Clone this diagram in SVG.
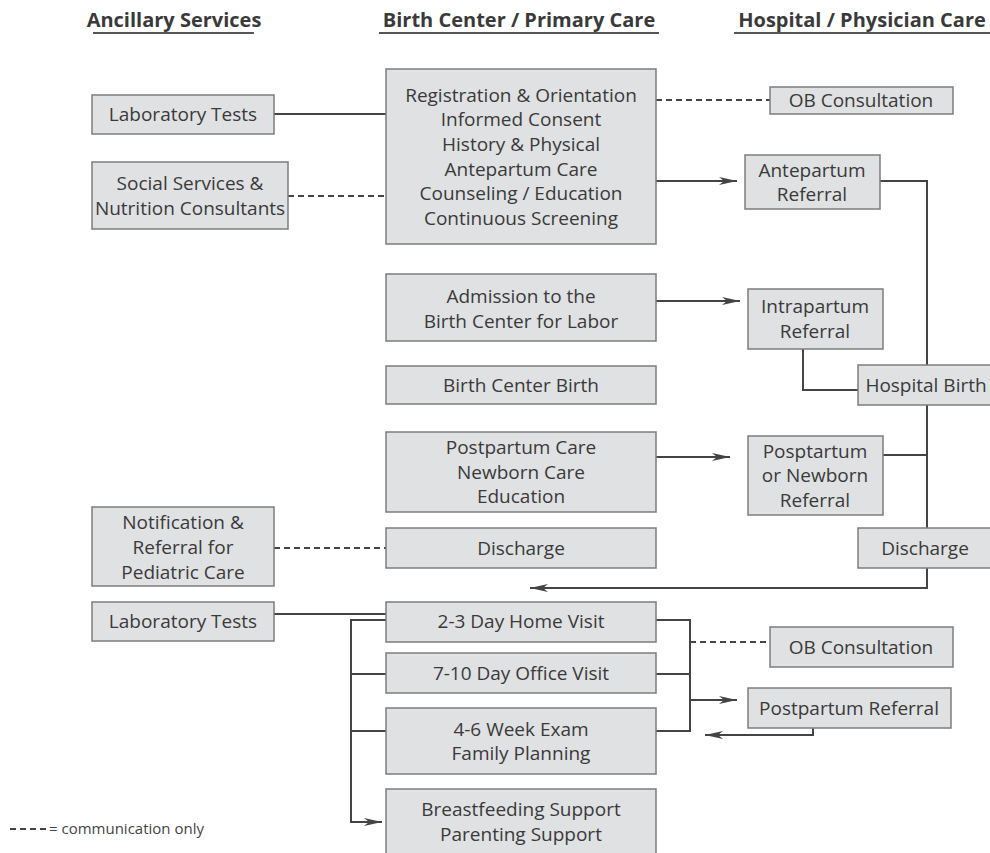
<svg xmlns="http://www.w3.org/2000/svg" width="990" height="853" viewBox="0 0 990 853">
<defs>
<style>
.bg{fill:#ffffff}
.box{fill:#e0e1e3;stroke:#7d7d7d;stroke-width:1.5}
.t{font-family:"Open Sans","Liberation Sans",sans-serif;font-size:19px;fill:#3a3a3a;text-anchor:middle}
.h{font-family:"Open Sans","Liberation Sans",sans-serif;font-size:20px;font-weight:bold;fill:#3a3a3a;text-anchor:middle}
.ul{stroke:#555;stroke-width:2}
.ln{fill:none;stroke:#444;stroke-width:2}
.dash{fill:none;stroke:#444;stroke-width:2;stroke-dasharray:6,4}
.lg{font-family:"Open Sans","Liberation Sans",sans-serif;font-size:15px;fill:#444}
</style>
<marker id="arr" markerWidth="18" markerHeight="8" refX="18" refY="4" orient="auto" markerUnits="userSpaceOnUse">
<path d="M0,0 L18,4 L0,8 L5,4 Z" fill="#444"/>
</marker>
</defs>
<rect class="bg" x="0" y="0" width="990" height="853"/>

<g id="headers">
<text class="h" x="174" y="27">Ancillary Services</text>
<line class="ul" x1="93" y1="33" x2="254" y2="33"/>
<text class="h" x="519" y="27">Birth Center / Primary Care</text>
<line class="ul" x1="379" y1="33" x2="659" y2="33"/>
<text class="h" x="862" y="27">Hospital / Physician Care</text>
<line class="ul" x1="734" y1="33" x2="990" y2="33"/>
</g>

<g id="connectors">
<line class="ln" x1="274" y1="114" x2="386" y2="114"/>
<line class="dash" x1="288" y1="196" x2="386" y2="196"/>
<line class="dash" x1="656" y1="100" x2="770" y2="100"/>
<line class="ln" x1="656" y1="181" x2="737" y2="181" marker-end="url(#arr)"/>
<line class="ln" x1="656" y1="301" x2="740" y2="301" marker-end="url(#arr)"/>
<line class="ln" x1="656" y1="457" x2="730" y2="457" marker-end="url(#arr)"/>
<path class="ln" d="M880,181 H927 V588 H530" marker-end="url(#arr)"/>
<path class="ln" d="M803,349 V390 H858"/>
<line class="ln" x1="883" y1="455" x2="927" y2="455"/>
<line class="dash" x1="274" y1="548" x2="386" y2="548"/>
<line class="ln" x1="274" y1="614" x2="386" y2="614"/>
<path class="ln" d="M386,620 H351 V822 H382" marker-end="url(#arr)"/>
<line class="ln" x1="351" y1="674" x2="386" y2="674"/>
<line class="ln" x1="351" y1="731" x2="386" y2="731"/>
<path class="ln" d="M656,620 H690 V731 H656"/>
<line class="ln" x1="656" y1="674" x2="690" y2="674"/>
<line class="dash" x1="690" y1="642" x2="770" y2="642"/>
<line class="ln" x1="690" y1="700" x2="737" y2="700" marker-end="url(#arr)"/>
<path class="ln" d="M813,728 V735 H705" marker-end="url(#arr)"/>
</g>

<g id="lab-tests-1"><rect class="box" x="92" y="95" width="182" height="39"/><text class="t" x="183" y="121">Laboratory Tests</text></g>
<g id="social-services"><rect class="box" x="92" y="162" width="196" height="67"/><text class="t" x="190" y="190">Social Services &amp;</text><text class="t" x="190" y="215">Nutrition Consultants</text></g>
<g id="notification"><rect class="box" x="92" y="507" width="182" height="79"/><text class="t" x="183" y="529">Notification &amp;</text><text class="t" x="183" y="554">Referral for</text><text class="t" x="183" y="579">Pediatric Care</text></g>
<g id="lab-tests-2"><rect class="box" x="92" y="602" width="182" height="39"/><text class="t" x="183" y="628">Laboratory Tests</text></g>

<g id="registration"><rect class="box" x="386" y="69" width="270" height="175"/>
<text class="t" x="521" y="102">Registration &amp; Orientation</text>
<text class="t" x="521" y="126">Informed Consent</text>
<text class="t" x="521" y="151">History &amp; Physical</text>
<text class="t" x="521" y="176">Antepartum Care</text>
<text class="t" x="521" y="200">Counseling / Education</text>
<text class="t" x="521" y="225">Continuous Screening</text></g>
<g id="admission"><rect class="box" x="386" y="274" width="270" height="67"/><text class="t" x="521" y="303">Admission to the</text><text class="t" x="521" y="328">Birth Center for Labor</text></g>
<g id="bc-birth"><rect class="box" x="386" y="366" width="270" height="38"/><text class="t" x="521" y="392">Birth Center Birth</text></g>
<g id="postpartum-care"><rect class="box" x="386" y="432" width="270" height="80"/><text class="t" x="521" y="454">Postpartum Care</text><text class="t" x="521" y="479">Newborn Care</text><text class="t" x="521" y="503">Education</text></g>
<g id="discharge-bc"><rect class="box" x="386" y="528" width="270" height="40"/><text class="t" x="521" y="555">Discharge</text></g>
<g id="home-visit"><rect class="box" x="386" y="602" width="270" height="40"/><text class="t" x="521" y="628">2-3 Day Home Visit</text></g>
<g id="office-visit"><rect class="box" x="386" y="653" width="270" height="40"/><text class="t" x="521" y="680">7-10 Day Office Visit</text></g>
<g id="week-exam"><rect class="box" x="386" y="708" width="270" height="66"/><text class="t" x="521" y="736">4-6 Week Exam</text><text class="t" x="521" y="760">Family Planning</text></g>
<g id="breastfeeding"><rect class="box" x="386" y="789" width="270" height="70"/><text class="t" x="521" y="816">Breastfeeding Support</text><text class="t" x="521" y="841">Parenting Support</text></g>

<g id="ob-consult-1"><rect class="box" x="770" y="87" width="183" height="27"/><text class="t" x="861" y="107">OB Consultation</text></g>
<g id="antepartum-referral"><rect class="box" x="745" y="155" width="135" height="54"/><text class="t" x="812" y="177">Antepartum</text><text class="t" x="812" y="201">Referral</text></g>
<g id="intrapartum-referral"><rect class="box" x="748" y="289" width="135" height="60"/><text class="t" x="815" y="313">Intrapartum</text><text class="t" x="815" y="338">Referral</text></g>
<g id="hospital-birth"><rect class="box" x="858" y="365" width="134" height="40"/><text class="t" x="926" y="392">Hospital Birth</text></g>
<g id="postpartum-newborn-referral"><rect class="box" x="748" y="436" width="135" height="79"/><text class="t" x="815" y="458">Posptartum</text><text class="t" x="815" y="482">or Newborn</text><text class="t" x="815" y="507">Referral</text></g>
<g id="discharge-hosp"><rect class="box" x="858" y="528" width="134" height="40"/><text class="t" x="925" y="555">Discharge</text></g>
<g id="ob-consult-2"><rect class="box" x="770" y="627" width="183" height="40"/><text class="t" x="861" y="654">OB Consultation</text></g>
<g id="postpartum-referral"><rect class="box" x="748" y="688" width="203" height="40"/><text class="t" x="849" y="715">Postpartum Referral</text></g>

<g id="legend">
<line class="dash" x1="10" y1="829" x2="48" y2="829" style="stroke-dasharray:6,4"/>
<text class="lg" x="49" y="834">= communication only</text>
</g>
</svg>
